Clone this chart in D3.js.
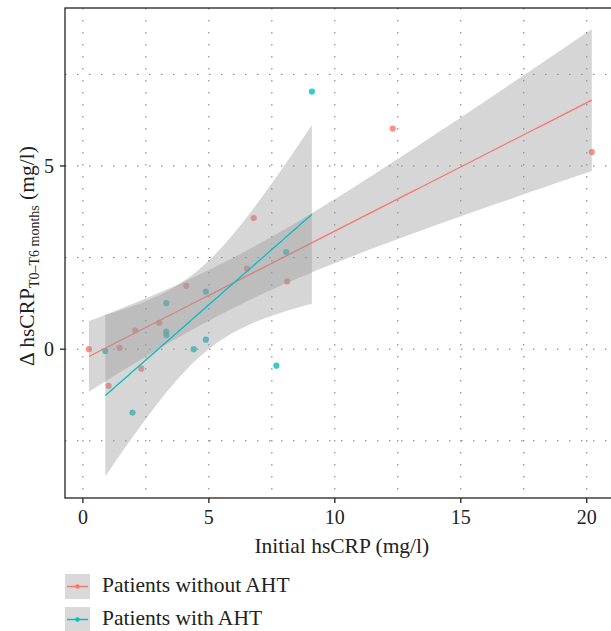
<!DOCTYPE html>
<html lang="en">
<head>
    <meta charset="UTF-8">
    <title>Delta hsCRP vs initial hsCRP</title>
    <style>
        body {
            margin: 0;
            background: #fff;
            font-family: "Liberation Serif", "DejaVu Serif", serif;
        }
        .grid line {
            stroke: #777;
            stroke-width: 1;
            stroke-dasharray: 1.5 10.5;
        }
        .tick-label {
            font-size: 20px;
            fill: #222;
        }
    </style>
</head>
<body>
    <svg width="611" height="631"></svg>

    <script src="https://cdn.jsdelivr.net/npm/d3@7"></script>
    <script>
        // data
        const groups = ["Patients without AHT", "Patients with AHT"];
        const colors = ["#F8766D", "#00BFC4"];

        const noAhtX = [0.24, 1.02, 1.46, 2.08, 2.32, 3.03, 4.10, 6.51, 6.78, 8.11, 12.30, 20.20];
        const noAhtY = [0.00, -1.00, 0.04, 0.51, -0.53, 0.72, 1.73, 2.20, 3.58, 1.85, 6.02, 5.38];

        const ahtX = [0.89, 1.97, 3.31, 3.31, 3.31, 4.40, 4.88, 4.88, 7.68, 8.07, 9.09];
        const ahtY = [-0.05, -1.73, 1.26, 0.48, 0.39, 0.00, 0.26, 1.57, -0.45, 2.65, 7.03];

        const xTicks = [0, 5, 10, 15, 20];
        const yTicks = [0, 5];
        const xGrid = [0, 2.5, 5, 7.5, 10, 12.5, 15, 17.5, 20];
        const yGrid = [-2.5, 0, 2.5, 5, 7.5];

        // 97.5% t quantiles by degrees of freedom (for the 95% band)
        const tCrit = { 9: 2.262, 10: 2.228 };

        const svg = d3.select("svg");
        const pLeft = 65, pTop = 8, pBottom = 498, pRight = 617;

        const x = d3.scaleLinear().domain([-0.71, 21.2]).range([pLeft, pRight]);
        const y = d3.scaleLinear().domain([-4.06, 9.31]).range([pBottom, pTop]);

        // linear model with confidence band, like geom_smooth(method = "lm")
        function lmFit(xs, ys) {
            const n = xs.length;
            const mx = d3.mean(xs), my = d3.mean(ys);
            let sxx = 0, sxy = 0, syy = 0;
            xs.forEach((v, i) => {
                sxx += (v - mx) ** 2;
                sxy += (v - mx) * (ys[i] - my);
                syy += (ys[i] - my) ** 2;
            });
            const b = sxy / sxx;
            const a = my - b * mx;
            const s = Math.sqrt((syy - b * sxy) / (n - 2));
            const t = tCrit[n - 2];
            const [lo, hi] = d3.extent(xs);
            return d3.range(80).map(k => {
                const xv = lo + (hi - lo) * k / 79;
                const fit = a + b * xv;
                const se = s * Math.sqrt(1 / n + (xv - mx) ** 2 / sxx);
                return { x: xv, fit: fit, lo: fit - t * se, hi: fit + t * se };
            });
        }

        // grid
        const grid = svg.append("g").attr("class", "grid");
        grid.selectAll(".gx")
            .data(xGrid)
            .join("line")
            .attr("class", "gx")
            .attr("x1", d => x(d)).attr("x2", d => x(d))
            .attr("y1", pTop).attr("y2", pBottom);
        grid.selectAll(".gy")
            .data(yGrid)
            .join("line")
            .attr("class", "gy")
            .attr("y1", d => y(d)).attr("y2", d => y(d))
            .attr("x1", pLeft).attr("x2", pRight);

        const series = [
            { xs: noAhtX, ys: noAhtY, color: colors[0] },
            { xs: ahtX, ys: ahtY, color: colors[1] }
        ];

        // points first, smooth layer over them
        series.forEach(s => {
            svg.append("g")
                .selectAll("circle")
                .data(s.xs.map((v, i) => [v, s.ys[i]]))
                .join("circle")
                .attr("cx", d => x(d[0]))
                .attr("cy", d => y(d[1]))
                .attr("r", 3.1)
                .attr("fill", s.color)
                .attr("fill-opacity", 0.8);
        });

        const area = d3.area().x(d => x(d.x)).y0(d => y(d.lo)).y1(d => y(d.hi));
        const line = d3.line().x(d => x(d.x)).y(d => y(d.fit));

        series.forEach(s => {
            const band = lmFit(s.xs, s.ys);
            svg.append("path")
                .datum(band)
                .attr("d", area)
                .attr("fill", "#999999")
                .attr("fill-opacity", 0.4);
            svg.append("path")
                .datum(band)
                .attr("d", line)
                .attr("fill", "none")
                .attr("stroke", s.color)
                .attr("stroke-width", 1.3);
        });

        // panel border
        svg.append("rect")
            .attr("x", pLeft).attr("y", pTop)
            .attr("width", pRight - pLeft).attr("height", pBottom - pTop)
            .attr("fill", "none")
            .attr("stroke", "#222")
            .attr("stroke-width", 1.3);

        // axes
        const xAxis = svg.append("g");
        xAxis.selectAll("line")
            .data(xTicks)
            .join("line")
            .attr("x1", d => x(d)).attr("x2", d => x(d))
            .attr("y1", pBottom).attr("y2", pBottom + 5)
            .attr("stroke", "#222").attr("stroke-width", 1.3);
        xAxis.selectAll("text")
            .data(xTicks)
            .join("text")
            .attr("class", "tick-label")
            .attr("x", d => x(d))
            .attr("y", 524)
            .attr("text-anchor", "middle")
            .text(d => d);

        const yAxis = svg.append("g");
        yAxis.selectAll("line")
            .data(yTicks)
            .join("line")
            .attr("y1", d => y(d)).attr("y2", d => y(d))
            .attr("x1", pLeft - 5).attr("x2", pLeft)
            .attr("stroke", "#222").attr("stroke-width", 1.3);
        yAxis.selectAll("text")
            .data(yTicks)
            .join("text")
            .attr("class", "tick-label")
            .attr("x", 54)
            .attr("y", d => y(d) + 7)
            .attr("text-anchor", "end")
            .text(d => d);

        // axis titles
        svg.append("text")
            .attr("x", (x(0) + x(20)) / 2 + 7)
            .attr("y", 553)
            .attr("text-anchor", "middle")
            .attr("font-size", 21.5)
            .attr("fill", "#222")
            .text("Initial hsCRP (mg/l)");

        const yTitle = svg.append("text")
            .attr("transform", `translate(34,${(pTop + pBottom) / 2 + 3}) rotate(-90)`)
            .attr("text-anchor", "middle")
            .attr("font-size", 21.5)
            .attr("fill", "#222");
        yTitle.append("tspan").text("\u0394 hsCRP");
        yTitle.append("tspan").attr("font-size", 14).attr("dy", 5).text("T0\u2013T6 months");
        yTitle.append("tspan").attr("dy", -5).text(" (mg/l)");

        // legend
        const legend = svg.append("g");
        groups.forEach((g, i) => {
            const ky = 574 + i * 33;
            const row = legend.append("g").attr("transform", `translate(65,${ky})`);
            row.append("rect")
                .attr("width", 25).attr("height", 25)
                .attr("fill", "#d9d9d9");
            row.append("line")
                .attr("x1", 2).attr("x2", 23)
                .attr("y1", 12.5).attr("y2", 12.5)
                .attr("stroke", colors[i]).attr("stroke-width", 1.5);
            row.append("circle")
                .attr("cx", 12.5).attr("cy", 12.5).attr("r", 2.2)
                .attr("fill", colors[i]);
            row.append("text")
                .attr("x", 37).attr("y", 18)
                .attr("font-size", 21.5)
                .attr("fill", "#222")
                .text(g);
        });
    </script>
</body>
</html>
